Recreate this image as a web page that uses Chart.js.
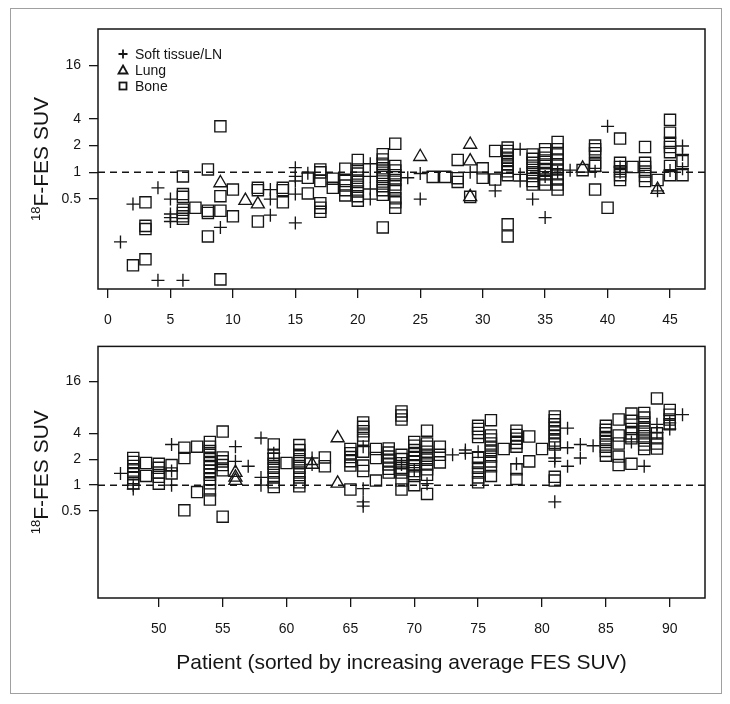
<!DOCTYPE html>
<html><head><meta charset="utf-8">
<script src="https://cdn.jsdelivr.net/npm/chart.js@4.4.0/dist/chart.umd.min.js"></script>
<style>
html,body{margin:0;padding:0;background:#fff;}
#wrap{position:relative;width:730px;height:704px;overflow:hidden;background:#fff;}
#frame{position:absolute;left:10px;top:8px;width:712px;height:686px;border:1.5px solid #a0a0a0;box-sizing:border-box;}
canvas{position:absolute;left:0;}
</style></head><body>
<div id="wrap"><div id="frame"></div>
<canvas id="c1" width="730" height="330" style="top:0px"></canvas>
<canvas id="c2" width="730" height="374" style="top:330px"></canvas>
</div>
<script>
// ---- data: rows are [patient, SUV values...] ----
const topSoft = [[1,0.165],[2,0.44],[4,0.67,0.061],[5,0.5,0.34,0.31,0.28],[6,0.061],[9,0.24],[13,0.64,0.5,0.33],[15,1.13,0.9,0.8,0.57,0.27],[16,0.98],[21,1.25,0.9,0.65,0.5],[24,0.87],[25,0.97,0.5],[29,1.0],[31,0.62],[33,1.82,0.95,0.8],[34,0.5],[35,0.9,0.31],[36,1.0],[37,1.06],[39,1.03],[40,3.3],[41,1.15,1.0],[44,0.62],[45,1.05],[46,1.98,1.59,1.1]];
const topLung = [[9,0.76],[11,0.48],[12,0.44],[25,1.5],[29,2.06,1.34,0.53],[38,1.11],[44,0.64]];
const topBone = [[2,0.09],[3,0.46,0.25,0.23,0.105],[6,0.9,0.57,0.53,0.38,0.35,0.32,0.3],[7,0.4],[8,1.08,0.37,0.35,0.19],[9,3.3,0.54,0.37,0.0625],[10,0.64,0.32],[12,0.67,0.63,0.28],[14,0.67,0.63,0.46],[16,0.87,0.58],[17,1.08,1.0,0.8,0.45,0.4,0.36],[18,0.85,0.67],[19,1.1,0.8,0.71,0.63,0.55],[20,1.38,1.08,0.97,0.87,0.78,0.69,0.61,0.54,0.48],[22,1.6,1.4,1.25,1.11,0.99,0.89,0.79,0.7,0.63,0.56,0.24],[23,2.1,1.18,1.05,0.93,0.82,0.73,0.64,0.51,0.46,0.4],[26,0.89],[27,0.89],[28,1.38,0.86,0.78],[29,0.53],[30,1.11,0.87],[31,1.74,0.83],[32,1.9,1.74,1.59,1.46,1.34,1.23,1.13,1.03,0.93,0.26,0.19],[34,1.59,1.42,1.28,1.13,1.0,0.91,0.8,0.73],[35,1.82,1.64,1.46,1.31,1.18,1.06,0.95,0.83,0.73],[36,2.2,1.82,1.59,1.4,1.23,1.08,0.95,0.83,0.73,0.64],[38,1.06],[39,2.0,1.82,1.64,1.28,1.18,0.64],[40,0.4],[41,2.4,1.28,1.15,1.03,0.93,0.82],[42,1.15],[43,1.93,1.28,1.15,1.02,0.91,0.8],[44,0.82],[45,3.9,2.8,2.15,1.93,1.69,1.18,0.93],[46,1.34,0.93]];

const botSoft = [[47,1.37],[48,1.0,0.9],[51,2.97,1.46,1.0],[56,2.8,1.89],[57,1.66],[58,3.53,1.23,1.0],[59,2.35],[62,2.07,1.74],[66,2.8,0.91,0.64,0.57],[69,1.74],[70,1.5],[71,1.04],[73,2.25],[74,2.56,2.35],[75,2.45],[78,1.77],[81,2.67,2.07,1.89,0.64],[82,4.6,2.72,1.66],[83,2.97,2.07],[84,2.87],[87,3.18],[88,1.66],[89,5.1,4.1],[90,5.3,4.5],[91,6.6]];
const botLung = [[56,1.4,1.23,1.13],[62,1.74],[64,3.53,1.05]];
const botBone = [[48,2.07,1.86,1.67,1.48,1.34,1.21,1.05],[49,1.81,1.28],[50,1.77,1.59,1.4,1.25,1.04],[51,1.71,1.37],[52,2.72,2.07,0.51],[53,2.8,0.83],[54,3.18,2.8,2.5,2.25,2.0,1.8,1.62,1.46,1.32,1.17,1.05,0.87,0.68],[55,4.2,2.1,1.89,1.71,1.49,0.43],[59,2.97,2.25,2.03,1.77,1.59,1.4,1.23,1.08,0.95],[60,1.81],[61,2.92,2.56,2.25,2.0,1.8,1.59,1.4,1.23,1.08,0.97],[63,2.1,1.66],[65,2.63,2.35,2.12,1.9,1.69,0.89],[66,5.35,4.77,4.23,3.78,3.38,2.45,1.69,1.46],[67,2.63,2.07,1.13],[68,2.67,2.39,2.15,1.93,1.74,1.55,1.4],[69,7.2,6.45,5.8,2.25,2.01,1.8,1.59,1.4,1.13,0.89],[70,3.18,2.87,2.56,2.3,2.07,1.86,1.66,1.46,1.28,1.0],[71,4.3,3.05,2.8,2.45,2.2,1.98,1.74,1.53,1.32,0.79],[72,2.8,2.25,1.84],[75,4.9,4.5,4.05,3.63,2.07,1.81,1.59,1.4,1.23,1.08],[76,5.7,3.78,3.4,3.05,2.72,2.45,2.15,1.89,1.66,1.28],[77,2.63],[78,4.3,3.84,3.47,3.1,2.8,1.53,1.18],[79,3.68,1.89],[80,2.63],[81,6.3,5.7,5.1,4.6,4.1,3.7,3.3,2.97,1.25,1.13],[85,4.9,4.4,4.0,3.5,3.18,2.8,2.5,2.2],[86,5.8,3.78,3.05,2.15,1.71],[87,6.8,5.6,4.5,4.0,3.5,1.77],[88,6.9,6.1,5.35,4.7,4.2,3.7,3.3,2.97,2.63],[89,10.2,4.0,3.5,3.05,2.67],[90,7.5,6.6,5.8,5.1]];

const topXTicks = [0,5,10,15,20,25,30,35,40,45];
const botXTicks = [50,55,60,65,70,75,80,85,90];
const yTicks = [0.5,1,2,4,16];
const topRange = [1,46];
const botRange = [47,91];
const yRangeLog2 = [-4,5];
const refLine = 1;
const legendLabels = ['Soft tissue/LN','Lung','Bone'];
const yTitleSup = '18', yTitleMain = 'F-FES SUV';
const xTitle = 'Patient (sorted by increasing average FES SUV)';

// ---- helpers ----
const FONT = "'Liberation Sans', Arial, Helvetica, sans-serif";
const INK = '#151515';
function flat(rows){ const out=[]; rows.forEach(r=>{ for(let k=1;k<r.length;k++) out.push({x:r[0],y:r[k]}); }); return out; }
function ext(a,b){ const d=(b-a)*0.04; return [a-d,b+d]; }
const yl = ext(yRangeLog2[0], yRangeLog2[1]);
const yMin = Math.pow(2,yl[0]), yMax = Math.pow(2,yl[1]);

function ds(rows, style, r){
  return {data:flat(rows), pointStyle:style, pointRadius:r, pointHoverRadius:r,
    borderColor:INK, backgroundColor:'rgba(0,0,0,0)', pointBorderWidth:1.35, showLine:false};
}

const decor = {
  id:'decor',
  beforeDatasetsDraw(chart){
    const {ctx, chartArea:a, scales} = chart;
    const y = scales.y.getPixelForValue(refLine);
    ctx.save();
    ctx.strokeStyle = INK; ctx.lineWidth = 1.5; ctx.setLineDash([7,5]);
    ctx.beginPath(); ctx.moveTo(a.left, y); ctx.lineTo(a.right, y); ctx.stroke();
    ctx.restore();
  },
  afterDraw(chart){
    const {ctx, chartArea:a} = chart;
    ctx.save();
    ctx.strokeStyle = INK; ctx.lineWidth = 1.5;
    ctx.strokeRect(a.left, a.top, a.right-a.left, a.bottom-a.top);
    // y title with superscript
    ctx.fillStyle = INK;
    ctx.translate(40, (a.top+a.bottom)/2);
    ctx.rotate(-Math.PI/2);
    ctx.font = '13px ' + FONT; const ws = ctx.measureText(yTitleSup).width;
    ctx.font = '21px ' + FONT; const wm = ctx.measureText(yTitleMain).width;
    const x0 = -(ws+wm)/2;
    ctx.textBaseline = 'alphabetic'; ctx.textAlign = 'left';
    ctx.font = '13px ' + FONT; ctx.fillText(yTitleSup, x0, 7.5-8);
    ctx.font = '21px ' + FONT; ctx.fillText(yTitleMain, x0+ws, 7.5);
    ctx.restore();
    const o = chart.options.plugins.decor || {};
    if (o.legend) drawLegend(ctx, a);
    if (o.xtitle) {
      ctx.save(); ctx.fillStyle = INK; ctx.font = '21px ' + FONT;
      ctx.textAlign = 'center'; ctx.textBaseline = 'middle';
      ctx.fillText(xTitle, (a.left+a.right)/2, a.bottom + 65);
      ctx.restore();
    }
  }
};

function drawLegend(ctx, a){
  const sx = a.left + 25, tx = a.left + 37, y0 = a.top + 25, dy = 16;
  ctx.save();
  ctx.strokeStyle = INK; ctx.fillStyle = INK; ctx.lineWidth = 1.8;
  let y = y0;
  ctx.beginPath(); ctx.moveTo(sx-4.5,y); ctx.lineTo(sx+4.5,y); ctx.moveTo(sx,y-4.5); ctx.lineTo(sx,y+4.5); ctx.stroke();
  y = y0+dy;
  ctx.beginPath(); ctx.moveTo(sx, y-4.5); ctx.lineTo(sx+4.5, y+3.5); ctx.lineTo(sx-4.5, y+3.5); ctx.closePath(); ctx.stroke();
  y = y0+2*dy;
  ctx.strokeRect(sx-3.5, y-3.5, 7, 7);
  ctx.font = '14px ' + FONT; ctx.textAlign='left'; ctx.textBaseline='middle';
  legendLabels.forEach((t,i)=>ctx.fillText(t, tx, y0+i*dy+1));
  ctx.restore();
}

function makeChart(id, soft, lung, bone, range, xticks, xAxisH, padTop, opts){
  const xr = ext(range[0], range[1]);
  return new Chart(document.getElementById(id), {
    type:'scatter',
    data:{datasets:[ds(bone,'rect',7.9), ds(lung,'triangle',7.5), ds(soft,'cross',6.5)]},
    options:{
      responsive:false, animation:false, events:[],
      layout:{padding:{top:padTop,right:25,left:0,bottom:0}, autoPadding:false},
      plugins:{legend:{display:false}, tooltip:{enabled:false}, decor:opts},
      scales:{
        x:{type:'linear', min:xr[0], max:xr[1],
          afterBuildTicks:s=>{ s.ticks = xticks.map(v=>({value:v})); },
          afterFit:s=>{ s.height = xAxisH; },
          grid:{display:true, drawOnChartArea:false, drawTicks:true, tickLength:9, color:INK, lineWidth:1.3},
          border:{display:false},
          ticks:{autoSkip:false, maxRotation:0, padding:14, color:INK, font:{family:FONT,size:14}, callback:v=>String(v)}
        },
        y:{type:'logarithmic', min:yMin, max:yMax,
          afterBuildTicks:s=>{ s.ticks = yTicks.map(v=>({value:v})); },
          afterFit:s=>{ s.width = 98; },
          grid:{display:true, drawOnChartArea:false, drawTicks:true, tickLength:9, color:INK, lineWidth:1.3},
          border:{display:false},
          ticks:{autoSkip:false, padding:8, color:INK, font:{family:FONT,size:14}, callback:v=>String(v)}
        }
      }
    },
    plugins:[decor]
  });
}

makeChart('c1', topSoft, topLung, topBone, topRange, topXTicks, 41, 29, {legend:true});
makeChart('c2', botSoft, botLung, botBone, botRange, botXTicks, 106, 9, {xtitle:true});
</script>
</body></html>
